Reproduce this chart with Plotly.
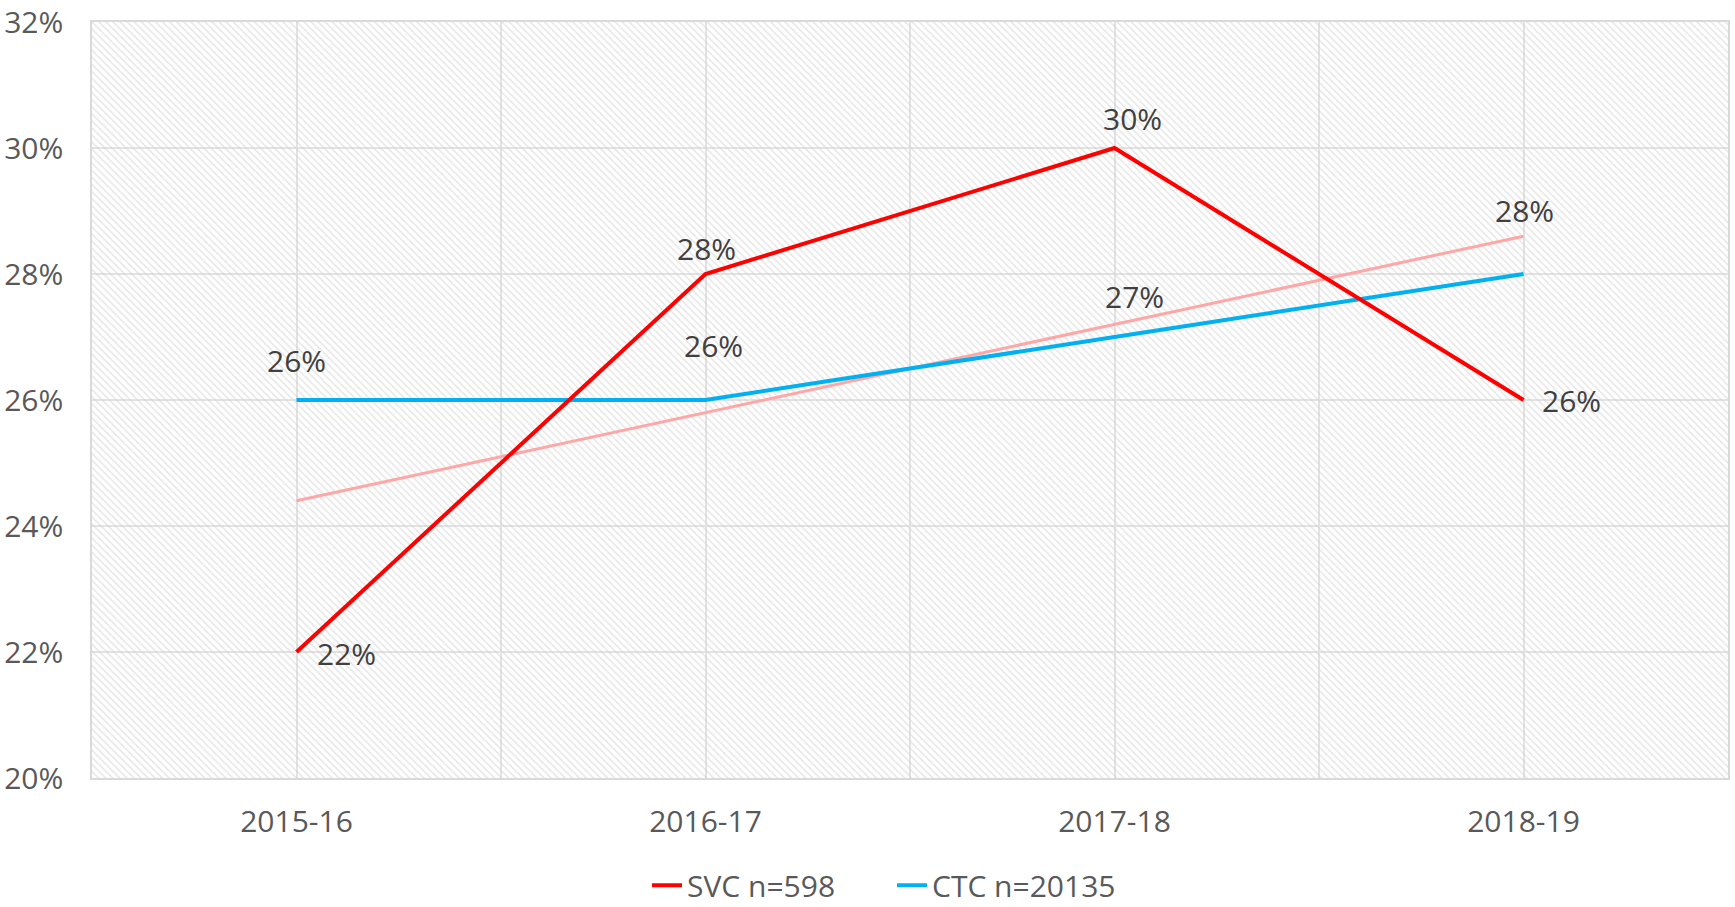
import numpy as np
import plotly.graph_objects as go

# ---- data ----
categories = ["2015-16", "2016-17", "2017-18", "2018-19"]
svc_values = [22, 28, 30, 26]
ctc_values = [26, 26, 27, 28]
svc_name = "SVC n=598"
ctc_name = "CTC n=20135"

# ---- axis / style config ----
Y_MIN, Y_MAX, Y_STEP = 20, 32, 2
FONT = "Open Sans, DejaVu Sans, sans-serif"
FONT_SIZE = 30
AXIS_TEXT = "#595959"
LABEL_TEXT = "#404040"
RED = "#ff0000"
BLUE = "#00b0f0"
TREND = "#ffa6a6"
GRID = "#e3e3e3"

# label offsets (pixels) for each point: (xshift, yshift)
svc_label_offsets = [(50, -1), (1, 26), (18, 30), (48, 0)]
ctc_label_offsets = [(0, 40), (8, 55), (20, 41), (1, 64)]

n = len(categories)
xs = np.arange(n)

# linear trend of SVC series
slope, intercept = np.polyfit(xs, svc_values, 1)
trend_values = slope * xs + intercept

fig = go.Figure()

# hatched plot-area background
fig.add_trace(go.Bar(
    x=list(xs), y=[Y_MAX - Y_MIN] * n, base=Y_MIN, width=1,
    marker=dict(color="rgba(0,0,0,0)", line=dict(width=0),
                pattern=dict(shape="\\", size=5, solidity=0.3,
                             fgcolor="#cdcdcd", fillmode="overlay")),
    hoverinfo="skip", showlegend=False,
))

fig.add_trace(go.Scatter(
    x=list(xs), y=list(trend_values), mode="lines",
    line=dict(color=TREND, width=3), showlegend=False, hoverinfo="skip",
))
fig.add_trace(go.Scatter(
    x=list(xs), y=ctc_values, mode="lines", name=ctc_name,
    line=dict(color=BLUE, width=4),
))
fig.add_trace(go.Scatter(
    x=list(xs), y=svc_values, mode="lines", name=svc_name,
    line=dict(color=RED, width=4),
))

# data labels
for values, offsets in ((svc_values, svc_label_offsets), (ctc_values, ctc_label_offsets)):
    for i, (v, (dx, dy)) in enumerate(zip(values, offsets)):
        fig.add_annotation(
            x=i, y=v, text=f"{v:.0f}%", showarrow=False,
            xanchor="center", yanchor="middle", xshift=dx, yshift=dy,
            font=dict(family=FONT, size=FONT_SIZE, color=LABEL_TEXT),
        )

# vertical gridlines at every half category
grid_x = [k / 2 for k in range(0, 2 * n - 1)]

fig.update_layout(
    width=1735, height=907,
    margin=dict(l=92, r=7, t=22, b=129, autoexpand=False),
    paper_bgcolor="white", plot_bgcolor="white",
    font=dict(family=FONT, size=FONT_SIZE, color=AXIS_TEXT),
    barmode="overlay",
    showlegend=True,
    legend=dict(orientation="h", x=0.489, xanchor="center", y=-0.142, yanchor="middle",
                traceorder="reversed", entrywidth=200, entrywidthmode="pixels",
                font=dict(family=FONT, size=FONT_SIZE, color=AXIS_TEXT),
                bgcolor="rgba(0,0,0,0)"),
    xaxis=dict(
        range=[-0.5, n - 0.5], tickmode="array", tickvals=list(xs), ticktext=categories,
        showgrid=False, zeroline=False, automargin=False, ticklabeloverflow="allow",
        showline=True, mirror=True, linecolor="#d9d9d9", linewidth=1.5,
        ticks="", ticklabelstandoff=16,
        minor=dict(tickmode="array", tickvals=grid_x, showgrid=True,
                   gridcolor=GRID, gridwidth=1.5, ticks=""),
        fixedrange=True,
    ),
    yaxis=dict(
        range=[Y_MIN, Y_MAX], dtick=Y_STEP, tick0=Y_MIN, ticksuffix="%",
        showgrid=True, gridcolor=GRID, gridwidth=1.5, zeroline=False, automargin=False,
        ticklabeloverflow="allow",
        showline=True, mirror=True, linecolor="#d9d9d9", linewidth=1.5,
        ticks="", ticklabelstandoff=21,
        fixedrange=True,
    ),
)

fig.write_html(
    "out.html",
    config={"displayModeBar": False},
    post_script="document.body.style.margin='0';document.body.style.overflow='hidden';",
)
